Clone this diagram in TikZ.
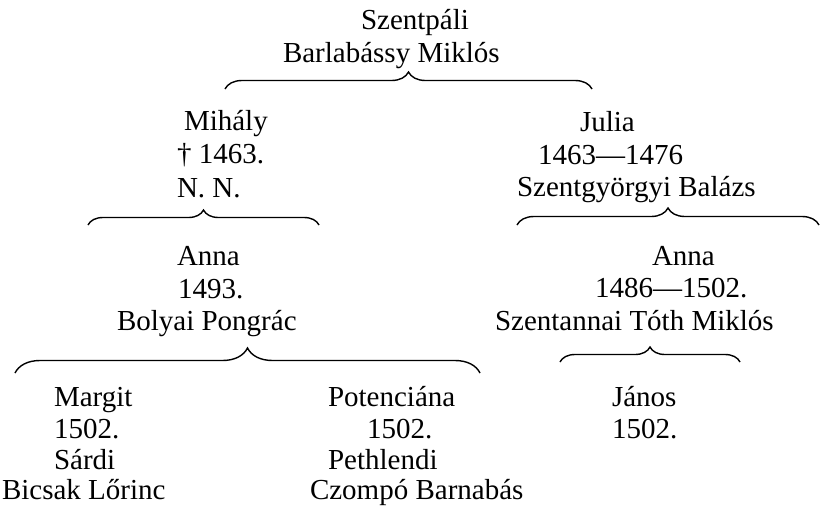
\documentclass[tikz,border=0pt]{standalone}
\usepackage{fontspec}
\setmainfont{Liberation Serif}
\usetikzlibrary{decorations.pathreplacing}
\tikzset{
  txt/.style={anchor=base west, inner sep=0pt, outer sep=0pt, font=\fontsize{29}{33}\selectfont},
  kinbrace/.style={decorate, decoration={brace, amplitude=#1}, line width=1.4pt}
}
\begin{document}
\begin{tikzpicture}[x=1pt, y=-1pt]
\useasboundingbox (0,0) rectangle (821,507);
% top
\node[txt] (t1) at (361,29) {Szentpáli};
\node[txt] (t2) at (283,62) {Barlabássy Miklós};
\coordinate (b0l) at (225,89);
\coordinate (b0r) at (592,89);
\draw[kinbrace=17pt] (b0l) -- (b0r);
% Mihály
\node[txt] (m1) at (184,130) {Mihály};
\node[txt] (m2) at (177,163) {† 1463.};
\node[txt] (m3) at (177,197) {N. N.};
\coordinate (b1l) at (88,225);
\coordinate (b1r) at (319,225);
\draw[kinbrace=15pt] (b1l) -- (b1r);
% Julia
\node[txt] (j1) at (580,131) {Julia};
\node[txt] (j2) at (538,164) {1463—1476};
\node[txt] (j3) at (517,196) {Szentgyörgyi Balázs};
\coordinate (b2l) at (517,225);
\coordinate (b2r) at (819,225);
\draw[kinbrace=17pt] (b2l) -- (b2r);
% Anna left
\node[txt] (a1) at (177,265) {Anna};
\node[txt] (a2) at (178,298) {1493.};
\node[txt] (a3) at (117,330) {Bolyai Pongrác};
\coordinate (b3l) at (15,373);
\coordinate (b3r) at (480,373);
\draw[kinbrace=25pt] (b3l) -- (b3r);
% Anna right
\node[txt] (c1) at (652,265) {Anna};
\node[txt] (c2) at (595,297) {1486—1502.};
\node[txt] (c3) at (495,330) {Szentannai Tóth Miklós};
\coordinate (b4l) at (560,362);
\coordinate (b4r) at (740,362);
\draw[kinbrace=15pt] (b4l) -- (b4r);
% Margit
\node[txt] (g1) at (54,406) {Margit};
\node[txt] (g2) at (54,438) {1502.};
\node[txt] (g3) at (54,469) {Sárdi};
\node[txt] (g4) at (2,499) {Bicsak Lőrinc};
% Potenciána
\node[txt] (p1) at (328,406) {Potenciána};
\node[txt] (p2) at (367,438) {1502.};
\node[txt] (p3) at (328,469) {Pethlendi};
\node[txt] (p4) at (310,499) {Czompó Barnabás};
% János
\node[txt] (n1) at (612,406) {János};
\node[txt] (n2) at (612,438) {1502.};
\end{tikzpicture}
\end{document}
